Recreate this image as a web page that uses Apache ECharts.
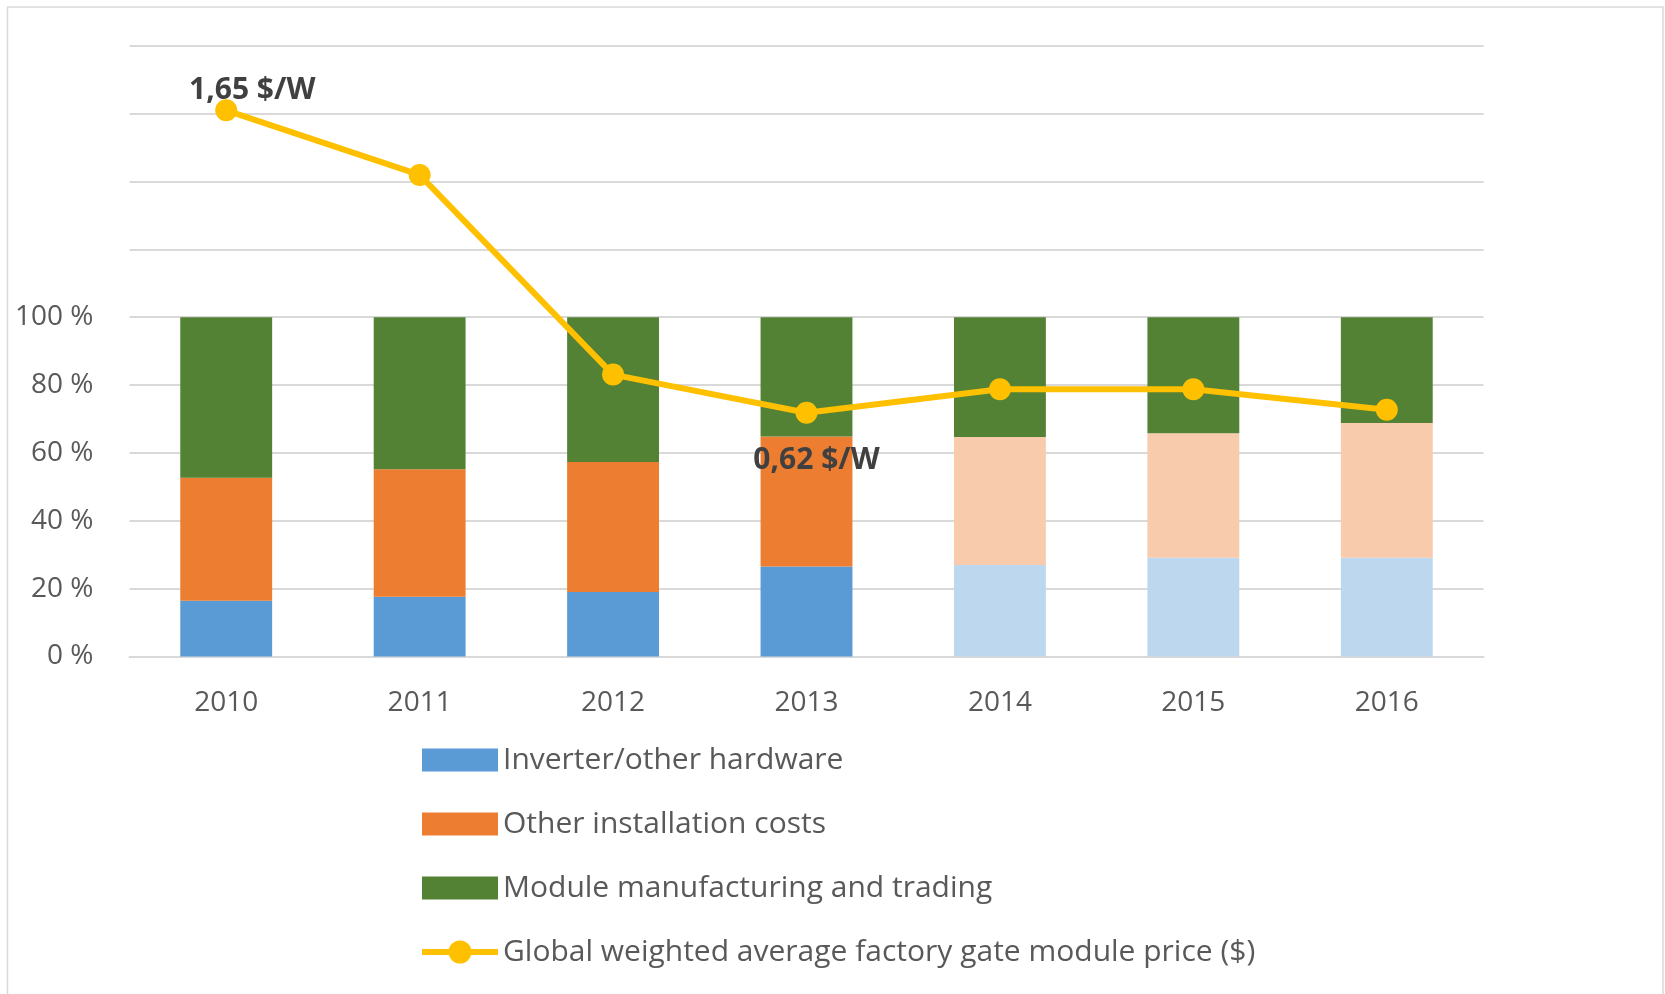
<!DOCTYPE html>
<html>
<head>
<meta charset="utf-8">
<title>PV cost breakdown</title>
<script src="https://cdn.jsdelivr.net/npm/echarts@6/dist/echarts.min.js"></script>
<style>
    html, body { margin: 0; padding: 0; background: #fff; }
    #chart { width: 1665px; height: 994px; }
</style>
</head>
<body>
<div id="chart"></div>
<script>
// categories
const years = ['2010', '2011', '2012', '2013', '2014', '2015', '2016'];
// later years drawn in lighter tones
const estimatedYears = ['2014', '2015', '2016'];

// shares of the system cost, %
const inverterShare = [16.4, 17.6, 19.0, 26.5, 27.0, 29.1, 29.1];
const installShare = [36.3, 37.6, 38.3, 38.3, 37.7, 36.7, 39.7];
const moduleShare = [47.3, 44.8, 42.7, 35.2, 35.3, 34.2, 31.2];

// factory gate module price, $/W
const modulePrice = [1.65, 1.43, 0.75, 0.62, 0.70, 0.70, 0.63];
const priceLabels = ['1,65 $/W', '', '', '0,62 $/W', '', '', ''];

// y axis ticks (only 0..100 carry a label)
const pctTicks = [0, 20, 40, 60, 80, 100];

const FONT = '"Open Sans", "Noto Sans", sans-serif';
const GRID_COLOR = '#D9D9D9';
const TEXT_COLOR = '#595959';

// legend icon for the price line: thick stroke with a dot in the middle
const LINE_ICON = 'path://M0,8.5L76,8.5L76,14.5L0,14.5Z M26.5,11.5A11.5,11.5,0,1,1,49.5,11.5A11.5,11.5,0,1,1,26.5,11.5Z';

let myChart = echarts.init(document.getElementById('chart'), null, { renderer: 'canvas' });

function shareData(values, lightColor) {
    return values.map((v, i) => {
        if (estimatedYears.includes(years[i])) {
            return { value: v, itemStyle: { color: lightColor } };
        }
        return v;
    });
}

// label offsets relative to the marker centre
const labelOffsets = { 0: [26, -20], 3: [10, 48] };

myChart.setOption({
    animation: false,
    textStyle: { fontFamily: FONT },
    graphic: [{
        type: 'rect',
        shape: { x: 7.5, y: 7, width: 1655.5, height: 1010 },
        style: { fill: 'none', stroke: GRID_COLOR, lineWidth: 1.5 },
        silent: true
    }],
    grid: { left: 129.5, right: 181.5, top: 45.7, bottom: 337.5 },
    legend: {
        orient: 'vertical',
        left: 417,
        top: 740,
        itemWidth: 76,
        itemHeight: 23,
        itemGap: 34,
        textStyle: { color: TEXT_COLOR, fontSize: 30, fontFamily: FONT, lineHeight: 30 },
        data: [
            { name: 'Inverter/other hardware', icon: 'rect' },
            { name: 'Other installation costs', icon: 'rect' },
            { name: 'Module manufacturing and trading', icon: 'rect' },
            { name: 'Global weighted average factory gate module price ($)', icon: LINE_ICON }
        ]
    },
    xAxis: [{
        type: 'category',
        data: years,
        axisTick: { show: false },
        axisLine: { lineStyle: { color: GRID_COLOR, width: 2 } },
        axisLabel: { color: TEXT_COLOR, fontSize: 28, margin: 33, fontFamily: FONT }
    }],
    yAxis: [{
        type: 'value',
        min: 0,
        max: 180,
        interval: 20,
        axisLine: { show: false },
        axisTick: { show: false },
        axisLabel: {
            color: TEXT_COLOR,
            fontSize: 28,
            margin: 36,
            fontFamily: FONT,
            formatter: v => pctTicks.includes(v) ? v + ' %' : ''
        },
        splitLine: { lineStyle: { color: GRID_COLOR, width: 2 } }
    }, {
        // hidden scale for the price line
        type: 'value',
        min: -0.21,
        max: 1.87,
        show: false,
        splitLine: { show: false }
    }],
    series: [
        {
            name: 'Inverter/other hardware', type: 'bar', stack: 'share', barWidth: '47.5%',
            itemStyle: { color: '#5B9BD5' },
            data: shareData(inverterShare, '#BDD7EE')
        },
        {
            name: 'Other installation costs', type: 'bar', stack: 'share',
            itemStyle: { color: '#ED7D31' },
            data: shareData(installShare, '#F8CBAD')
        },
        {
            name: 'Module manufacturing and trading', type: 'bar', stack: 'share',
            itemStyle: { color: '#548235' },
            data: moduleShare
        },
        {
            name: 'Global weighted average factory gate module price ($)',
            type: 'line',
            yAxisIndex: 1,
            z: 5,
            symbol: 'circle',
            symbolSize: 22,
            lineStyle: { color: '#FFC000', width: 6 },
            itemStyle: { color: '#FFC000' },
            data: modulePrice.map((v, i) => {
                if (!priceLabels[i]) return v;
                return {
                    value: v,
                    label: {
                        show: true,
                        position: 'inside',
                        offset: labelOffsets[i],
                        formatter: priceLabels[i],
                        color: '#404040',
                        fontSize: 30,
                        fontWeight: 'bold',
                        fontFamily: FONT
                    }
                };
            })
        }
    ]
});

window.addEventListener('resize', function () {
    myChart.resize();
});
</script>
</body>
</html>
